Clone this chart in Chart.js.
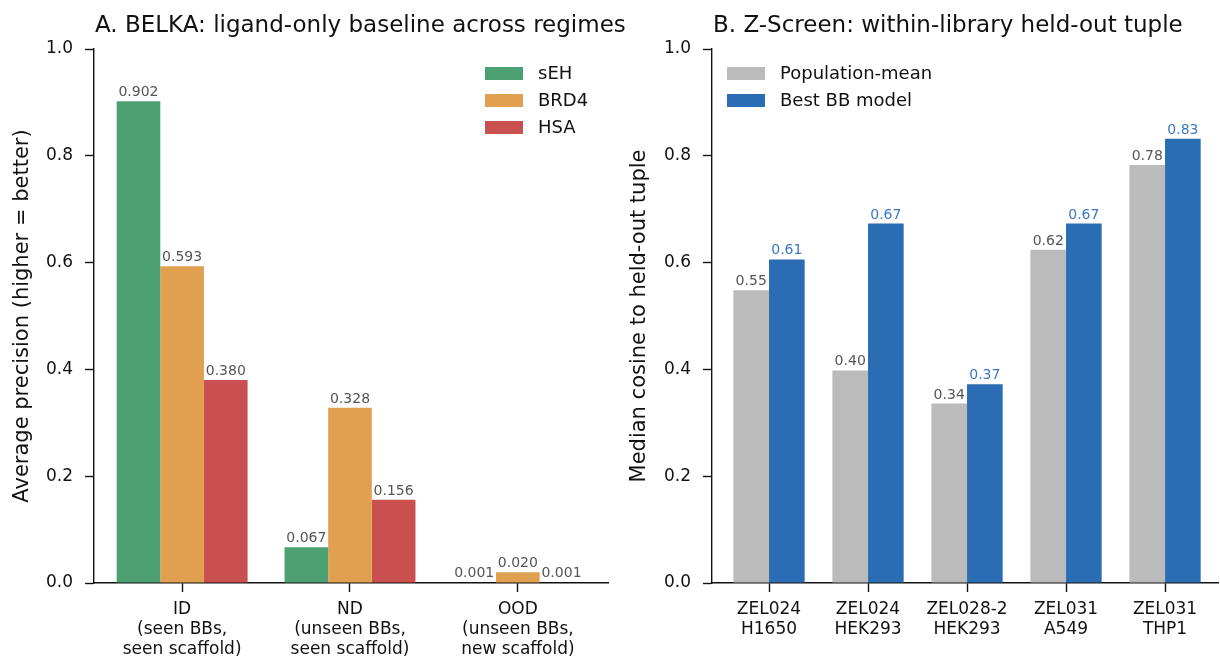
<!DOCTYPE html>
<html>
<head>
<meta charset="utf-8">
<script src="https://cdn.jsdelivr.net/npm/chart.js@4.4.1/dist/chart.umd.min.js"></script>
<style>
  html, body { margin: 0; padding: 0; background: #fff; }
  #wrap { position: relative; width: 1220px; height: 656px; }
  .panel { position: absolute; top: 0; height: 656px; }
</style>
</head>
<body>
<div id="wrap">
  <div class="panel" style="left:0;width:660px"><canvas id="belkaChart"></canvas></div>
  <div class="panel" style="left:610px;width:610px"><canvas id="zscreenChart"></canvas></div>
</div>
<script>
// Panel A data
const belkaRegimes = [
  ["ID", "(seen BBs,", "seen scaffold)"],
  ["ND", "(unseen BBs,", "seen scaffold)"],
  ["OOD", "(unseen BBs,", "new scaffold)"],
];
const belkaTargets = ["sEH", "BRD4", "HSA"];
const sehAP = [0.902, 0.067, 0.001];
const brd4AP = [0.593, 0.328, 0.020];
const hsaAP = [0.380, 0.156, 0.001];

// Panel B data
const zscreenTuples = [
  ["ZEL024", "H1650"],
  ["ZEL024", "HEK293"],
  ["ZEL028-2", "HEK293"],
  ["ZEL031", "A549"],
  ["ZEL031", "THP1"],
];
const populationMean = [0.548, 0.398, 0.336, 0.624, 0.783];
const bestBBModel = [0.606, 0.673, 0.372, 0.673, 0.832];

const yTicks = [0, 0.2, 0.4, 0.6, 0.8, 1.0];

const FONT = "'DejaVu Sans', sans-serif";
const colors = {
  seh: "#4ca072",
  brd4: "#e1a04f",
  hsa: "#c9504f",
  gray: "#bbbbbb",
  blue: "#2b6db4",
  labelGray: "#555555",
  labelBlue: "#3a78c4",
};

// bar chart points on a numeric x axis (one unit per category)
const toPoints = (vals) => vals.map((v, i) => ({ x: i, y: v }));

// draw panel title left-aligned at the axis
const titlePlugin = {
  id: "panelTitle",
  afterDraw(chart, args, opts) {
    const ctx = chart.ctx;
    ctx.save();
    ctx.font = "23px " + FONT;
    ctx.fillStyle = "#111";
    ctx.textAlign = "left";
    ctx.textBaseline = "alphabetic";
    ctx.fillText(opts.text, chart.chartArea.left + 1, 32);
    ctx.restore();
  },
};

// numbers above the bars
const valueLabelPlugin = {
  id: "valueLabels",
  afterDatasetsDraw(chart, args, opts) {
    const ctx = chart.ctx;
    ctx.save();
    ctx.font = "14px " + FONT;
    ctx.textAlign = "center";
    ctx.textBaseline = "alphabetic";
    chart.data.datasets.forEach((ds, di) => {
      const meta = chart.getDatasetMeta(di);
      ctx.fillStyle = opts.colors[di];
      meta.data.forEach((bar, i) => {
        const v = ds.data[i].y;
        ctx.fillText(v.toFixed(opts.digits), bar.x, bar.y - 5);
      });
    });
    ctx.restore();
  },
};

// simple matplotlib-like legend
const legendPlugin = {
  id: "boxLegend",
  afterDraw(chart, args, opts) {
    const ctx = chart.ctx;
    ctx.save();
    ctx.font = "18px " + FONT;
    ctx.textBaseline = "middle";
    ctx.textAlign = "left";
    chart.data.datasets.forEach((ds, i) => {
      const y = opts.y + i * 27;
      ctx.fillStyle = ds.backgroundColor;
      ctx.fillRect(opts.x, y - 6.5, 38, 13);
      ctx.fillStyle = "#111";
      ctx.fillText(ds.label, opts.x + 53, y + 1);
    });
    ctx.restore();
  },
};

function makeOptions(cfg) {
  return {
    responsive: false,
    animation: false,
    devicePixelRatio: 1,
    layout: { padding: { top: 49, right: cfg.padRight, bottom: 0, left: 0 } },
    plugins: {
      legend: { display: false },
      tooltip: { enabled: false },
      panelTitle: { text: cfg.title },
      valueLabels: { colors: cfg.labelColors, digits: cfg.digits },
      boxLegend: { x: cfg.legendX, y: 73.5 },
    },
    scales: {
      x: {
        type: "linear",
        min: cfg.xMin,
        max: cfg.xMax,
        offset: false,
        afterBuildTicks: (scale) => {
          scale.ticks = cfg.cats.map((c, i) => ({ value: i }));
        },
        afterFit: (scale) => { scale.height = 73; },
        ticks: {
          autoSkip: false,
          maxRotation: 0,
          padding: 7,
          color: "#111",
          font: { family: FONT, size: 17, lineHeight: 1.2 },
          callback: (v) => cfg.cats[v],
        },
        grid: {
          offset: false,
          drawOnChartArea: false,
          drawTicks: true,
          tickLength: 9,
          tickWidth: 1.4,
          tickColor: "#111",
        },
        border: { display: true, color: "#111", width: 1.4 },
      },
      y: {
        min: 0,
        max: 1,
        afterBuildTicks: (scale) => {
          scale.ticks = yTicks.map((v) => ({ value: v }));
        },
        afterFit: (scale) => { scale.width = cfg.yWidth; },
        ticks: {
          padding: 12,
          color: "#111",
          font: { family: FONT, size: 17 },
          callback: (v) => v.toFixed(1),
        },
        grid: {
          drawOnChartArea: false,
          drawTicks: true,
          tickLength: 9,
          tickWidth: 1.4,
          tickColor: "#111",
        },
        border: { display: true, color: "#111", width: 1.4 },
        title: {
          display: true,
          text: cfg.yTitle,
          color: "#111",
          font: { family: FONT, size: 21, lineHeight: 1.2 },
          padding: { top: cfg.yTitlePad, bottom: 0 },
        },
      },
    },
  };
}

const belkaCanvas = document.getElementById("belkaChart");
belkaCanvas.width = 660;
belkaCanvas.height = 656;
new Chart(belkaCanvas.getContext("2d"), {
  type: "bar",
  data: {
    datasets: [
      { label: belkaTargets[0], data: toPoints(sehAP), backgroundColor: colors.seh },
      { label: belkaTargets[1], data: toPoints(brd4AP), backgroundColor: colors.brd4 },
      { label: belkaTargets[2], data: toPoints(hsaAP), backgroundColor: colors.hsa },
    ].map((d) => ({ ...d, categoryPercentage: 0.78, barPercentage: 1.0, borderWidth: 0 })),
  },
  options: makeOptions({
    title: "A. BELKA: ligand-only baseline across regimes",
    yTitle: "Average precision (higher = better)",
    cats: belkaRegimes,
    xMin: -0.525,
    xMax: 2.537,
    yWidth: 94,
    yTitlePad: 10,
    padRight: 52,
    legendX: 485,
    digits: 3,
    labelColors: [colors.labelGray, colors.labelGray, colors.labelGray],
  }),
  plugins: [titlePlugin, valueLabelPlugin, legendPlugin],
});

const zCanvas = document.getElementById("zscreenChart");
zCanvas.width = 610;
zCanvas.height = 656;
new Chart(zCanvas.getContext("2d"), {
  type: "bar",
  data: {
    datasets: [
      { label: "Population-mean", data: toPoints(populationMean), backgroundColor: colors.gray },
      { label: "Best BB model", data: toPoints(bestBBModel), backgroundColor: colors.blue },
    ].map((d) => ({ ...d, categoryPercentage: 0.72, barPercentage: 1.0, borderWidth: 0 })),
  },
  options: makeOptions({
    title: "B. Z-Screen: within-library held-out tuple",
    yTitle: "Median cosine to held-out tuple",
    cats: zscreenTuples,
    xMin: -0.576,
    xMax: 4.535,
    yWidth: 102,
    yTitlePad: 17,
    padRight: 2,
    legendX: 117,
    digits: 2,
    labelColors: [colors.labelGray, colors.labelBlue],
  }),
  plugins: [titlePlugin, valueLabelPlugin, legendPlugin],
});
</script>
</body>
</html>
